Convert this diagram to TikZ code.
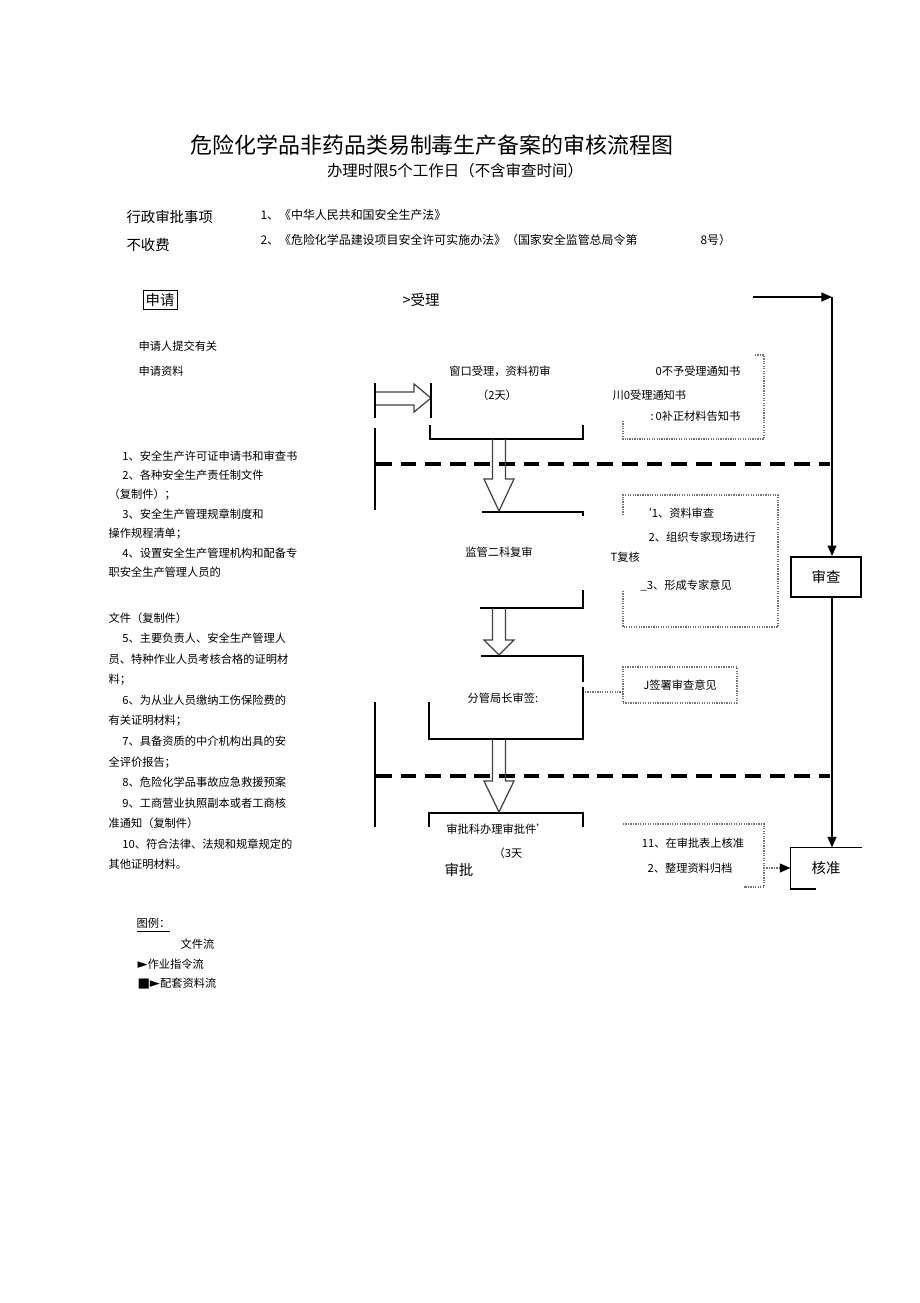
\documentclass[tikz,border=0pt]{standalone}
\usepackage{fontspec}
\setmainfont{Noto Sans CJK SC}
\newfontfamily\symfont{DejaVu Sans}
\usetikzlibrary{arrows.meta,positioning}

% hollow arrow going down the middle column: top, start of head, tip
\newcommand{\hollowdown}[3]{%
  \draw[hollow] (492.5,#1) -- (492.5,#2) -- (484,#2) -- (499,#3) -- (514,#2) -- (505.5,#2) -- (505.5,#1);}

\begin{document}
\begin{tikzpicture}[x=0.02cm,y=-0.02cm,inner sep=0pt,semithick]
	  \tikzstyle{note}=[font=\fontsize{6.4}{8}\selectfont]
	  \tikzstyle{head}=[font=\fontsize{8.2}{10}\selectfont]
	  \tikzstyle{bracket}=[line width=1.1pt]
	  \tikzstyle{dashline}=[line width=1.8pt,dash pattern=on 9pt off 5pt]
	  \tikzstyle{dotbox}=[draw=black!55,line width=0.8pt,dash pattern=on 0.7pt off 0.7pt]
	  \tikzstyle{hollow}=[draw=black!75,line width=0.7pt]
	  \tikzstyle{flow}=[line width=0.9pt,-{Triangle[length=6pt,width=5pt]}]
	  \tikzstyle{stage}=[draw,line width=1.1pt,minimum width=1.4cm,minimum height=0.8cm,head]

	  \useasboundingbox (0,0) rectangle (920,1303);

	  % heading
	  \node (title) at (432,145) {\fontsize{12.5}{14}\selectfont 危险化学品非药品类易制毒生产备案的审核流程图};
	  \node (limit) at (455,171) {\fontsize{8.8}{10}\selectfont 办理时限5个工作日（不含审查时间）};
	  \node[head,anchor=west] (item) at (126,217) {行政审批事项};
	  \node[head,anchor=west] (fee) at (126,245) {不收费};
	  \node[font=\fontsize{6.8}{8}\selectfont,anchor=west] (law1) at (260,215) {1、《中华人民共和国安全生产法》};
	  \node[font=\fontsize{6.8}{8}\selectfont,anchor=west] (law2) at (260,240) {2、《危险化学品建设项目安全许可实施办法》（国家安全监管总局令第};
	  \node[font=\fontsize{6.8}{8}\selectfont,anchor=west] (order) at (700,240) {8号）};

	  % application column
	  \node[head,draw,line width=0.5pt,inner sep=1.5pt] (apply) at (160,300) {申请};
	  \node[head] (accept) at (421,300) {>受理};
	  \node[note,anchor=west] (submit) at (138,346) {申请人提交有关};
	  \node[note,anchor=west] (material) at (138,371) {申请资料};

	  \node[note,anchor=north west,align=left,font=\fontsize{6.4}{11.05}\selectfont] (docsA) at (108,450) {%
	    \hspace{7.9pt}1、安全生产许可证申请书和审查书\\
	    \hspace{7.9pt}2、各种安全生产责任制文件\\
	    （复制件）；\\
	    \hspace{7.9pt}3、安全生产管理规章制度和\\
	    操作规程清单；\\
	    \hspace{7.9pt}4、设置安全生产管理机构和配备专\\
	    职安全生产管理人员的};
	  \node[note,anchor=north west,align=left,font=\fontsize{6.4}{11.7}\selectfont] (docsB) at (108,612) {%
	    文件（复制件）\\
	    \hspace{7.9pt}5、主要负责人、安全生产管理人\\
	    员、特种作业人员考核合格的证明材\\
	    料；\\
	    \hspace{7.9pt}6、为从业人员缴纳工伤保险费的\\
	    有关证明材料；\\
	    \hspace{7.9pt}7、具备资质的中介机构出具的安\\
	    全评价报告；\\
	    \hspace{7.9pt}8、危险化学品事故应急救援预案\\
	    \hspace{7.9pt}9、工商营业执照副本或者工商核\\
	    准通知（复制件）\\
	    \hspace{7.9pt}10、符合法律、法规和规章规定的\\
	    其他证明材料。};

	  % middle column texts
	  \node[note] (window) at (500,371) {窗口受理，资料初审};
	  \node[note] (days2) at (497,395) {（2天）};
	  \node[note] (review) at (499,552) {监管二科复审};
	  \node[note] (sign) at (503,698) {分管局长审签:};
	  \node[note] (approvedoc) at (497,829) {审批科办理审批件’};
	  \node[note] (days3) at (508,853) {（3天};
	  \node[head,anchor=west] (approve) at (444,870) {审批};

	  % notes on the right
	  \node[note,anchor=east] (refuse) at (741,371) {0不予受理通知书};
	  \node[note,anchor=west] (acceptnote) at (612,395) {川0受理通知书};
	  \node[note,anchor=east] (supply) at (741,416) {:\,0补正材料告知书};
	  \node[note,anchor=west] (check1) at (640,513) {‘1、资料审查};
	  \node[note,anchor=west] (check2) at (648,537) {2、组织专家现场进行};
	  \node[note,anchor=west] (recheck) at (610,557) {T复核};
	  \node[note,anchor=west] (check3) at (640,586) {\_3、形成专家意见};
	  \node[note,dotbox,minimum width=2.28cm,minimum height=0.72cm] (opinion) at (680,685) {J签署审查意见};
	  \node[note] (ratify1) at (693,843) {11、在审批表上核准};
	  \node[note] (ratify2) at (690,868) {2、整理资料归档};

	  % right column
	  \node[stage] (check) at (826,577) {审查};
	  \node[head,minimum width=1.4cm,minimum height=0.8cm] (final) at (826,868) {核准};

	  % lane separators
	  \draw[dashline] (376,464) -- (830,464);
	  \draw[dashline] (376,776) -- (830,776);
	  \draw[line width=1.1pt] (375,428) -- (375,510);
	  \draw[line width=1.1pt] (375,702) -- (375,827);

	  % stage brackets
	  \draw[bracket] (430,425) -- (430,439) -- (583,439) -- (583,425);
	  \draw[bracket] (482,512) -- (583,512) -- (583,516);
	  \draw[bracket] (583,590) -- (583,608) -- (480,608);
	  \draw[bracket] (481,656) -- (583,656) -- (583,682);
	  \draw[bracket] (583,687) -- (583,739) -- (429,739) -- (429,702);
	  \draw[bracket] (429,827) -- (429,813) -- (583,813) -- (583,827);

	  % file flow arrows
	  \draw[line width=1.7pt] (375,383) -- (375,418);
	  \draw[hollow] (376,392) -- (414,392) -- (414,384) -- (431,398) -- (414,412) -- (414,405) -- (376,405);
	  \draw[line width=0.7pt] (431,383) -- (431,418);
	  \hollowdown{439}{479}{511}
	  \hollowdown{608}{640}{655}
	  \hollowdown{739}{781}{812}

	  % dotted note frames
	  \draw[dotbox] (755,355) -- (764,355) -- (764,439) -- (623,439) -- (623,420);
	  \draw[dotbox] (623,515) -- (623,495) -- (778,495) -- (778,627) -- (623,627) -- (623,590);
	  \draw[dotbox] (623,824) -- (764,824) -- (764,887) -- (744,887);

	  % command flow
	  \coordinate (out) at (753,297);
	  \coordinate (corner) at (832,297);
	  \draw[flow] (out) -- (corner);
	  \draw[flow] (corner) -- (corner |- check.north);
	  \draw[flow] (check.south -| corner) -- (corner |- final.north);
	  \draw[line width=1.1pt] (final.north east) -- (final.north west) -- (final.south west) -- ++(26,0);

	  % material flow
	  \coordinate (signout) at (585,692);
	  \draw[dotbox] (signout) -- (opinion.west |- signout);
	  \draw[dotbox,-{Triangle[length=6pt,width=5pt,fill=black,color=black]}] (764,868) -- (final.west);

	  % legend
	  \node[note,anchor=west] (legend) at (136,925) {\underline{图例：}};
	  \node[note,anchor=west] (legfile) at (180,944) {文件流};
	  \node[note,anchor=west] (legcmd) at (137,964) {{\symfont\fontsize{7.5}{8}\selectfont ►}作业指令流};
	  \node[note,anchor=west] (legdata) at (137,984) {{\symfont\fontsize{7.5}{8}\selectfont ■►}配套资料流};
	\end{tikzpicture}
\end{document}
